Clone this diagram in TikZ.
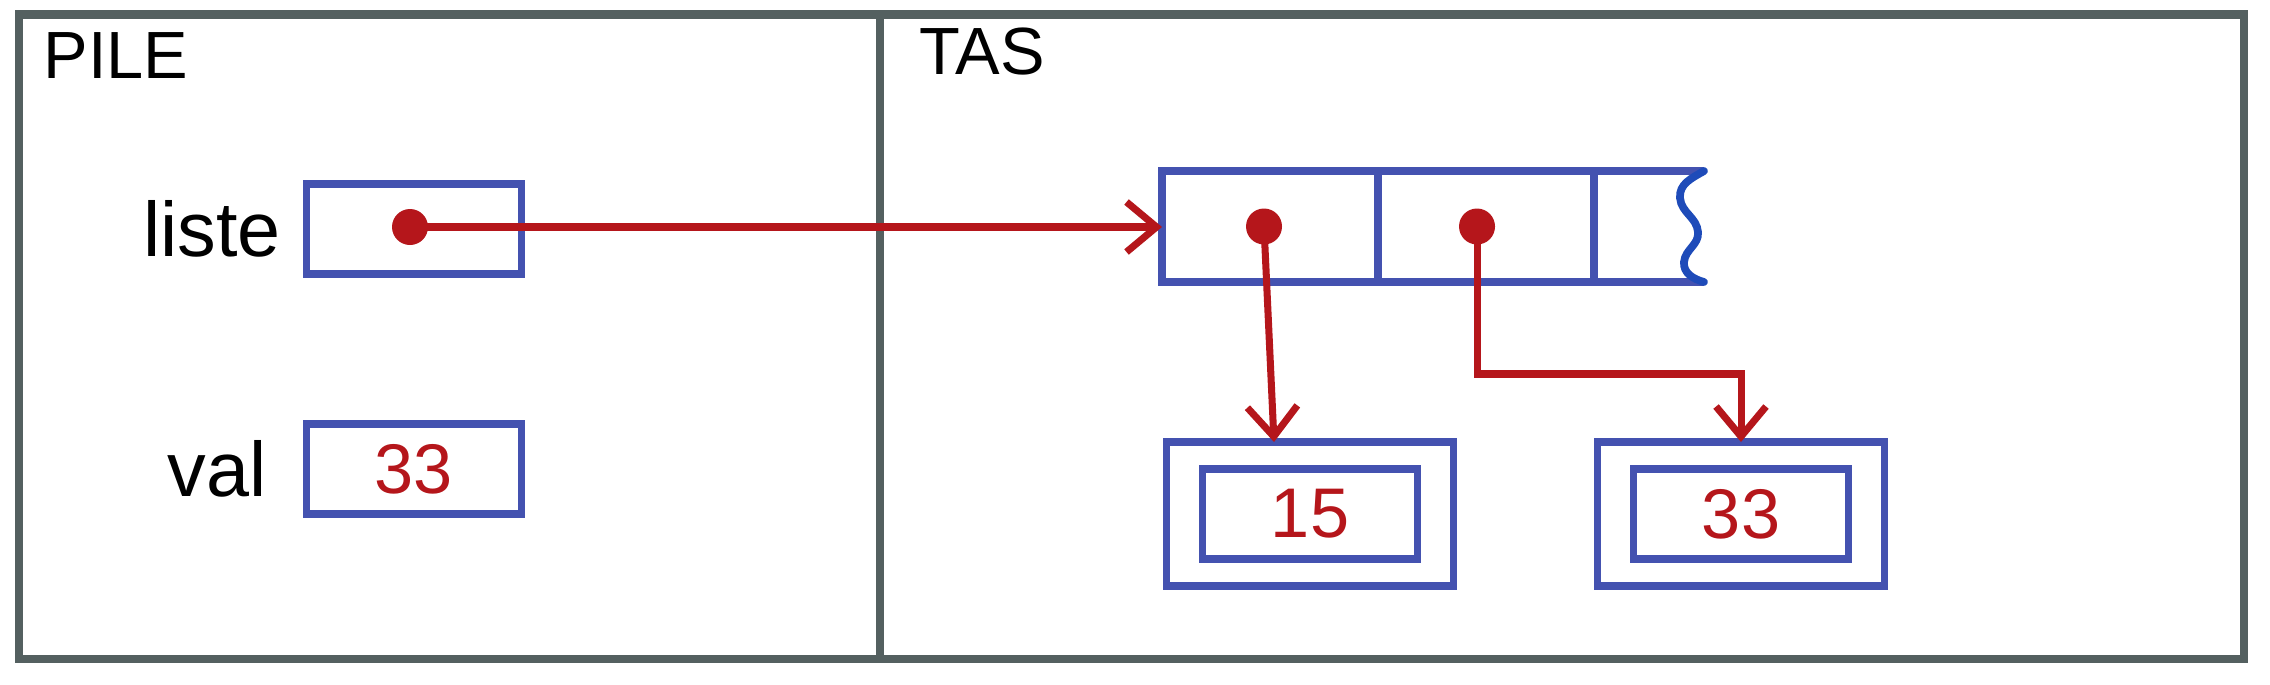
\documentclass[tikz,border=0pt]{standalone}
\usepackage{fontspec}
\setmainfont{Liberation Sans}
\usetikzlibrary{positioning,arrows.meta,calc}

\definecolor{framegray}{RGB}{84,96,96}
\definecolor{cellblue}{RGB}{68,82,176}
\definecolor{waveblue}{RGB}{30,75,185}
\definecolor{ptrred}{RGB}{181,22,27}

\begin{document}
\begin{tikzpicture}[
    zone/.style={
        rectangle,
        draw=framegray,
        line width=2.4pt,
        outer sep=0pt,
        minimum height=6.445cm,
        anchor=north west
    },
    title/.style={font=\fontsize{19}{22}\selectfont, inner sep=0pt},
    varname/.style={font=\fontsize{22}{26}\selectfont, inner sep=0pt},
    cell/.style={
        rectangle,
        draw=cellblue,
        line width=2.2pt,
        inner sep=0pt,
        outer sep=0pt,
        minimum width=2.15cm,
        minimum height=0.9cm,
        text=ptrred,
        font=\fontsize{20}{24}\selectfont
    },
    arrcell/.style={cell, minimum width=2.16cm, minimum height=1.11cm},
    objbox/.style={cell, minimum width=2.87cm, minimum height=1.44cm},
    dot/.style={circle, fill=ptrred, minimum size=3.6mm, inner sep=0pt},
    ptr/.style={
        draw=ptrred,
        line width=2pt,
        -{Straight Barb[length=3mm, width=5mm]}
    }
]

\useasboundingbox (0,0) rectangle (22.70,-6.84);

%% ===== ZONES =====
\node[zone, minimum width=8.61cm] (pile) at (0.19,-0.145) {};
\node[zone, minimum width=13.64cm, right=0pt of pile.north east, anchor=north west] (tas) {};

\node[title, anchor=base west] (piletitle)
  at ([xshift=2.4mm, yshift=-6.4mm]pile.north west) {PILE};
\node[title, anchor=base west] (tastitle)
  at ([xshift=3.9mm, yshift=-6.0mm]tas.north west) {TAS};

%% ===== PILE =====
\node[cell] (lstbox) at (4.14,-2.29) {};
\node[cell, below=1.5cm of lstbox] (valbox) {33};

\node[varname, left=0.25cm of lstbox] (lstname) {liste};
\node[varname, left=0.39cm of valbox] (valname) {val};

\node[dot] (lstdot) at ([xshift=-0.4mm, yshift=0.2mm]lstbox.center) {};

%% ===== TAS =====
\node[arrcell] (cell1) at (12.70,-2.265) {};
\node[arrcell, right=0pt of cell1] (cell2) {};

% open end of the array
\draw[draw=cellblue, line width=2.2pt] (cell2.north east) -- (17.04,-1.71);
\draw[draw=cellblue, line width=2.2pt] (cell2.south east) -- (17.04,-2.82);
\draw[draw=waveblue, line width=2.2pt, line cap=round]
  (17.04,-1.71) to[out=210,in=95] (16.80,-1.98)
  to[out=-85,in=95] (16.98,-2.32)
  to[out=-85,in=85] (16.84,-2.62)
  to[out=-95,in=165] (17.04,-2.82);

\node[dot] (c1dot) at ([xshift=-0.6mm]cell1.center) {};
\node[dot] (c2dot) at ([xshift=-0.9mm]cell2.center) {};

\node[objbox] (obj1) at (13.10,-5.14) {};
\node[cell] (num1) at (obj1.center) {15};

\node[objbox, right=1.44cm of obj1] (obj2) {};
\node[cell] (num2) at (obj2.center) {33};

%% ===== POINTERS =====
\draw[ptr] (lstdot.center) -- (lstdot.center -| cell1.west);
\draw[ptr] (c1dot.center) -- ([xshift=-3.6mm]obj1.north);
\draw[ptr] (c2dot.center) |- ([yshift=6.8mm]obj2.north) -- (obj2.north);

\end{tikzpicture}
\end{document}
